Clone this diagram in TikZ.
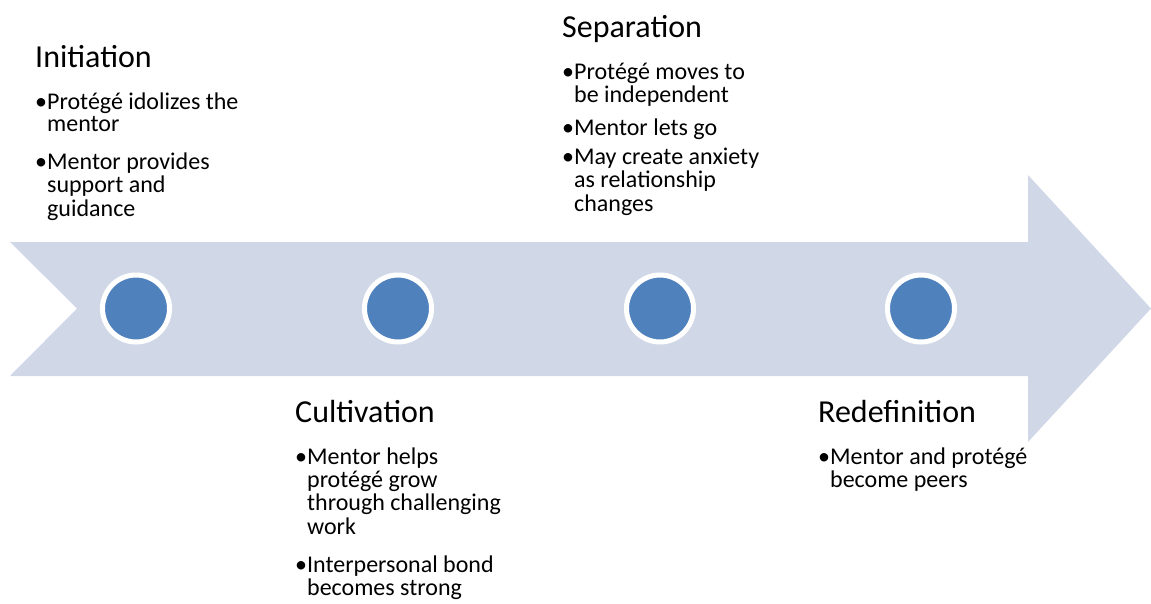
\documentclass[tikz,border=0pt]{standalone}
\usepackage{fontspec}
\setmainfont{Carlito}
\definecolor{arrowfill}{HTML}{D0D8E8}
\definecolor{dotfill}{HTML}{4F81BD}
\newcommand{\bulletpar}[1]{\begin{tabular}[t]{@{}l@{}l@{}}#1\end{tabular}}
\begin{document}
\begin{tikzpicture}[x=1pt,y=-1pt,
  head/.style={anchor=base west, inner sep=0pt, font=\fontsize{32}{32}\selectfont},
  bul/.style={anchor=base west, inner sep=0pt, font=\fontsize{24}{22.8}\selectfont},
  stage/.style={circle, fill=dotfill, draw=white, line width=5pt, minimum size=67pt, inner sep=0pt}]
\useasboundingbox (0,0) rectangle (1151,603);
% big arrow
\fill[arrowfill] (10,242) -- (1028,242) -- (1028,175) -- (1151,308.5) -- (1028,442)
  -- (1028,376) -- (10,376) -- (77,308.5) -- cycle;
% stage dots
\node[stage] (c1) at (136,308.5) {};
\node[stage] (c2) at (398,308.5) {};
\node[stage] (c3) at (660,308.5) {};
\node[stage] (c4) at (921,308.5) {};
% Initiation
\node[head] (h1) at (35,67) {Initiation};
\node[bul] (b11) at (35,109) {\bulletpar{•&Protégé idolizes the\\&mentor}};
\node[bul] (b12) at (35,169) {\bulletpar{•&Mentor provides\\&support and\\&guidance}};
% Cultivation
\node[head] (h2) at (295,422) {Cultivation};
\node[bul] (b21) at (295,464) {\bulletpar{•&Mentor helps\\&protégé grow\\&through challenging\\&work}};
\node[bul] (b22) at (295,572) {\bulletpar{•&Interpersonal bond\\&becomes strong}};
% Separation
\node[head] (h3) at (562,37) {Separation};
\node[bul] (b31) at (562,79) {\bulletpar{•&Protégé moves to\\&be independent}};
\node[bul] (b32) at (562,135) {\bulletpar{•&Mentor lets go}};
\node[bul] (b33) at (562,164) {\bulletpar{•&May create anxiety\\&as relationship\\&changes}};
% Redefinition
\node[head] (h4) at (818,422) {Redefinition};
\node[bul] (b41) at (818,464) {\bulletpar{•&Mentor and protégé\\&become peers}};
\end{tikzpicture}
\end{document}
